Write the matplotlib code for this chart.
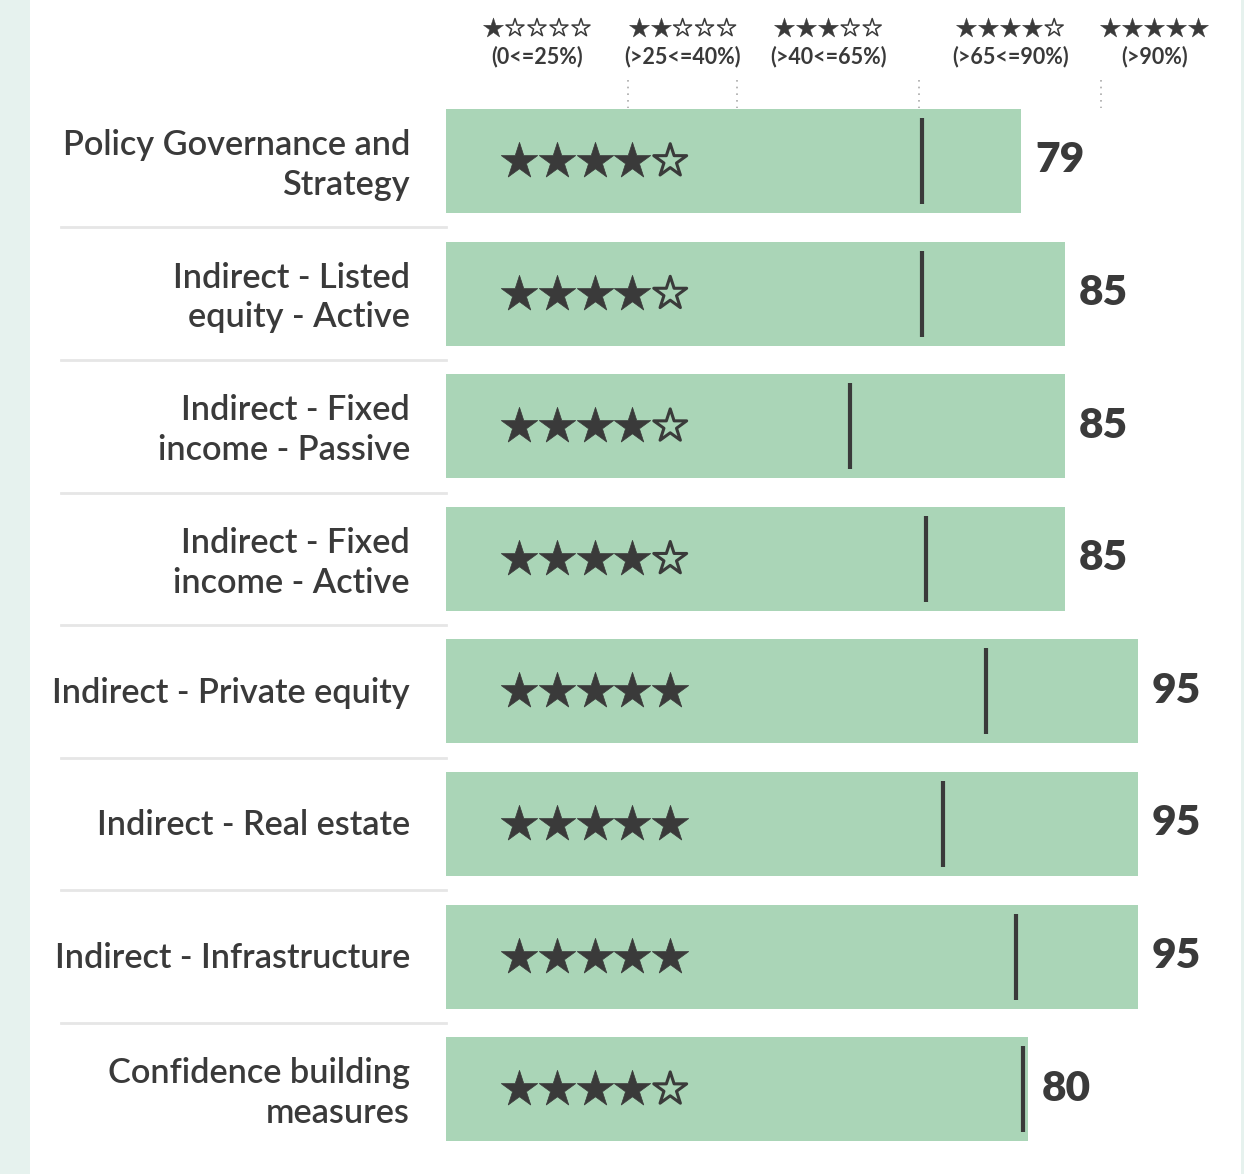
import matplotlib
matplotlib.use("Agg")
import matplotlib.pyplot as plt
from matplotlib.patches import Rectangle

plt.rcParams['font.family'] = ['Lato', 'DejaVu Sans']

categories = [
    "Policy Governance and\nStrategy",
    "Indirect - Listed\nequity - Active",
    "Indirect - Fixed\nincome - Passive",
    "Indirect - Fixed\nincome - Active",
    "Indirect - Private equity",
    "Indirect - Real estate",
    "Indirect - Infrastructure",
    "Confidence building\nmeasures",
]
scores = [79, 85, 85, 85, 95, 95, 95, 80]
medians = [65.4, 65.4, 55.5, 65.9, 74.2, 68.3, 78.3, 79.3]
thresholds = [25, 40, 65, 90]
band_labels = ["(0<=25%)", "(>25<=40%)", "(>40<=65%)", "(>65<=90%)", "(>90%)"]
band_centers = [12.5, 32.5, 52.5, 77.5, 97.3]

W, H = 1244, 1174
PX = 7.28  # pixels per score point
X0 = 446   # pixel of score 0
ROW0, ROWH = 161, 132.6

fig = plt.figure(figsize=(W / 100, H / 100), dpi=100)
fig.patch.set_facecolor('white')
fig.patches.append(Rectangle((0, 0), 30 / W, 1, transform=fig.transFigure,
                             facecolor='#e6f2ee', edgecolor='none', zorder=0))
fig.patches.append(Rectangle((1241 / W, 0), 3 / W, 1, transform=fig.transFigure,
                             facecolor='#e6f2ee', edgecolor='none', zorder=0))

ax = fig.add_axes([0, 0, 1, 1])
ax.set_facecolor('none')
ax.set_xlim(-X0 / PX, (W - X0) / PX)
ax.set_ylim((H - ROW0) / ROWH, -ROW0 / ROWH)
ax.axis('off')

dark = '#3a3a3a'
green = '#aad5b7'

def n_stars(v):
    return 1 + sum(v > t for t in thresholds)

ys = list(range(len(categories)))
ax.barh(ys, scores, height=104 / ROWH, left=0, color=green, zorder=1)

star_x = [10.0 + 5.2 * k for k in range(5)]
for i, (cat, s, m) in enumerate(zip(categories, scores, medians)):
    ax.plot([m, m], [i - 0.325, i + 0.325], color=dark, lw=3, solid_capstyle='butt', zorder=3)
    ax.text(s + 1.9, i - 0.005, str(s), ha='left', va='center', fontsize=30.5,
            fontweight='heavy', color=dark)
    two = '\n' in cat
    ax.text(-4.95, i + (0.03 if two else 0.01), cat, ha='right', va='center', fontsize=24.7,
            color=dark, fontweight='semibold', linespacing=1.3)
    k = n_stars(s)
    ax.scatter(star_x[:k], [i] * k, marker='*', s=760, color=dark, edgecolors=dark,
               linewidths=0.5, zorder=3)
    if k < 5:
        ax.scatter(star_x[k:], [i] * (5 - k), marker='*', s=620, facecolors='none',
                   edgecolors=dark, linewidths=2.2, zorder=3)
    if i < len(categories) - 1:
        ax.plot([-52.9, 0], [i + 0.5, i + 0.5], color='#e6e6e6', lw=2, zorder=1)

# header
hy_star = (28 - ROW0) / ROWH
hy_lab = (57 - ROW0) / ROWH
for j, (lab, cx) in enumerate(zip(band_labels, band_centers)):
    sx = [cx + (k - 2) * 22 / PX for k in range(5)]
    ax.scatter(sx[:j + 1], [hy_star] * (j + 1), marker='*', s=230, color=dark,
               edgecolors=dark, linewidths=0.3)
    if j < 4:
        ax.scatter(sx[j + 1:], [hy_star] * (4 - j), marker='*', s=185, facecolors='none',
                   edgecolors=dark, linewidths=1.1)
    ax.text(cx, hy_lab, lab, ha='center', va='center', fontsize=15.5, fontweight='bold',
            color=dark)

for t in thresholds:
    ax.plot([t, t], [(80 - ROW0) / ROWH, (108 - ROW0) / ROWH], color='#aaaaaa', lw=1.2,
            ls=(0, (1, 3)), zorder=0)

fig.savefig('out.png', dpi=100, facecolor='white')
